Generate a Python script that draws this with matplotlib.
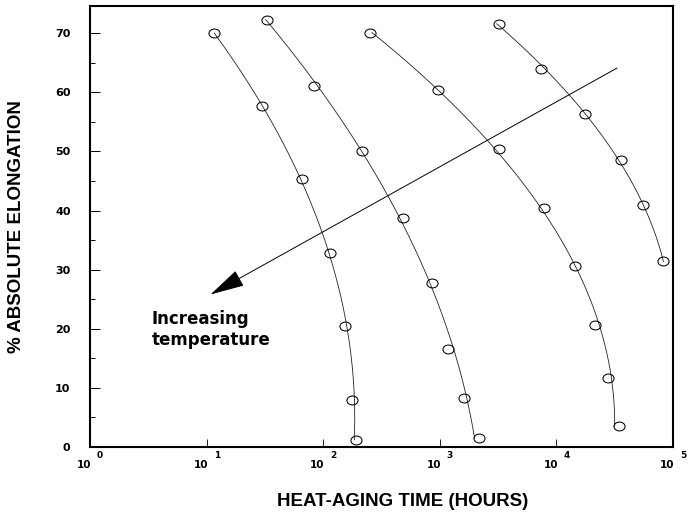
import numpy as np
import matplotlib
matplotlib.use('Agg')
import matplotlib.pyplot as plt
from matplotlib.ticker import MultipleLocator, NullLocator
from matplotlib.path import Path
from matplotlib import transforms

# elongation (%) vs heat-aging time (hours), one curve per temperature
elong_1 = [70.0, 57.7, 45.3, 32.9, 20.5, 8.0, 1.2]
hours_1 = [11.6, 29.6, 66.4, 114, 154, 177, 193]

elong_2 = [72.3, 61.1, 50.1, 38.8, 27.7, 16.5, 8.3, 1.5]
hours_2 = [32.7, 83.6, 217, 484, 863, 1175, 1614, 2153]

elong_3 = [70.1, 60.4, 50.4, 40.5, 30.6, 20.6, 11.7, 3.5]
hours_3 = [251, 966, 3199, 7762, 14320, 21230, 27670, 34670]

elong_4 = [71.6, 64.0, 56.4, 48.6, 41.0, 31.4]
hours_4 = [3199, 7413, 17460, 35970, 55210, 81850]

series = [(hours_1, elong_1), (hours_2, elong_2), (hours_3, elong_3), (hours_4, elong_4)]

decades = [0, 1, 2, 3, 4, 5]
yticks = [0, 10, 20, 30, 40, 50, 60, 70]

arrow_start = (33100, 64.1)
arrow_tip = (10.8, 25.8)
note_pos = (3.4, 23.1)
note_text = 'Increasing\ntemperature'

plt.rcParams['font.family'] = ['DejaVu Sans']

# slightly flattened open circle, like the hand-drawn markers
circ = Path.unit_circle()
oval = Path(circ.vertices * np.array([1.0, 0.8]), circ.codes)

fig = plt.figure(figsize=(6.88, 5.14), dpi=100)
ax = fig.add_axes([90 / 688, 67 / 514, 583 / 688, 441 / 514])

for hrs, el in series:
    hrs = np.array(hrs, dtype=float)
    el = np.array(el, dtype=float)
    # smooth trend line: log(time) as quadratic in elongation
    coef = np.polyfit(el, np.log10(hrs), 2)
    yy = np.linspace(el.min(), el.max(), 200)
    ax.plot(10 ** np.polyval(coef, yy), yy, color='#222222', lw=0.6)
    ax.plot(hrs, el, linestyle='none', marker=oval, ms=8, mfc='none',
            mec='black', mew=0.75)

ax.annotate('', xy=arrow_tip, xytext=arrow_start,
            arrowprops=dict(arrowstyle='-|>,head_length=2.2,head_width=0.55',
                            color='black', lw=0.7, shrinkA=0, shrinkB=0,
                            mutation_scale=10))
ax.text(note_pos[0], note_pos[1], note_text, va='top', ha='left',
        fontsize=12, fontweight='bold')

ax.set_xscale('log')
ax.set_xlim(1, 1e5)
ax.set_ylim(0, 74.6)

for s in ax.spines.values():
    s.set_linewidth(1.5)

ax.set_yticks(yticks)
ax.set_yticklabels([str(v) for v in yticks], fontsize=8, fontweight='bold')
ax.yaxis.set_minor_locator(MultipleLocator(5))
ax.tick_params(axis='y', which='major', direction='in', length=7, width=0.7, pad=14)
ax.tick_params(axis='y', which='minor', direction='in', length=3.5, width=0.7)

ax.set_xticks([10.0 ** d for d in decades])
ax.xaxis.set_minor_locator(NullLocator())
ax.set_xticklabels([])
ax.tick_params(axis='x', which='major', direction='in', length=5.5, width=0.6)

# "10" with a raised exponent under each decade
for d in decades:
    base = transforms.offset_copy(ax.get_xaxis_transform(), fig=fig, x=1.5, y=-21, units='dots')
    sup = transforms.offset_copy(ax.get_xaxis_transform(), fig=fig, x=7, y=-11, units='dots')
    ax.text(10.0 ** d, 0, '10', transform=base, ha='right', va='baseline',
            fontsize=7.5, fontweight='bold', clip_on=False)
    ax.text(10.0 ** d, 0, str(d), transform=sup, ha='left', va='baseline',
            fontsize=6.5, fontweight='bold', clip_on=False)

fig.text(403 / 688, 13 / 514, 'HEAT-AGING TIME (HOURS)', ha='center', va='center',
         fontsize=13.5, fontweight='bold', family=['Liberation Sans', 'DejaVu Sans'])
fig.text(17 / 688, 287 / 514, '% ABSOLUTE ELONGATION', ha='center', va='center',
         rotation=90, fontsize=13.5, fontweight='bold',
         family=['Liberation Sans', 'DejaVu Sans'])

fig.savefig('out.png', dpi=100)
